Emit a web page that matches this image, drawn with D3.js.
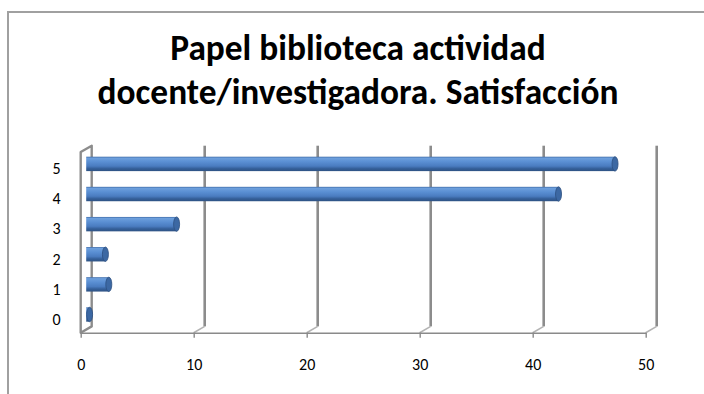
<!DOCTYPE html>
<html>
<head>
<meta charset="utf-8">
<script src="https://cdn.jsdelivr.net/npm/d3@7"></script>
<style>
  html, body { margin: 0; padding: 0; background: #fff; }
  svg { display: block; }
</style>
</head>
<body>
<svg id="chart" width="704" height="394"></svg>
<script>
// Satisfaction ratings (0–5) and their share of responses
const categories = ["0", "1", "2", "3", "4", "5"];
const values = [0.3, 2.0, 1.7, 8.0, 41.8, 46.8];
const tickValues = [0, 10, 20, 30, 40, 50];
const titleLines = ["Papel biblioteca actividad", "docente/investigadora. Satisfacción"];

const svg = d3.select("#chart");
const W = 704, H = 394;
const font = "Carlito, Calibri, Lato, sans-serif";
const labelSize = 16;

// Outer chart frame
svg.append("rect")
  .attr("x", 8).attr("y", 12)
  .attr("width", W + 20).attr("height", H + 20)
  .attr("fill", "#fff")
  .attr("stroke", "#a0a0a0").attr("stroke-width", 2);

// Plot geometry (front plane + 3D depth offset)
const plot = { left: 80.7, right: 645.7, top: 152, bottom: 332.7 };
const depth = { dx: 11, dy: -6.3 };

const x = d3.scaleLinear().domain([0, 50]).range([plot.left, plot.right]);
const y = d3.scaleBand()
  .domain(categories.slice().reverse())
  .range([plot.top, plot.bottom])
  .paddingInner(0).paddingOuter(0);

// Back wall gridlines with their floor connectors
const grid = svg.append("g");
tickValues.slice(1).forEach(v => {
  const fx = x(v), bx = x(v) + depth.dx;
  grid.append("line")
    .attr("x1", bx).attr("x2", bx)
    .attr("y1", plot.top + depth.dy).attr("y2", plot.bottom + depth.dy)
    .attr("stroke", "#8c8c8c").attr("stroke-width", 2.6);
  grid.append("line")
    .attr("x1", bx).attr("x2", fx)
    .attr("y1", plot.bottom + depth.dy).attr("y2", plot.bottom)
    .attr("stroke", "#b4b4b4").attr("stroke-width", 1.6);
});

// Left side wall
const wall = svg.append("g");
const fx0 = x(0), bx0 = x(0) + depth.dx;
wall.append("path")
  .attr("d", `M${fx0},${plot.bottom} L${fx0},${plot.top} L${bx0},${plot.top + depth.dy} L${bx0},${plot.bottom + depth.dy} Z`)
  .attr("fill", "none")
  .attr("stroke", "#8c8c8c").attr("stroke-width", 2.4)
  .attr("stroke-linejoin", "round");

// Cylinder gradient
const defs = svg.append("defs");
const grad = defs.append("linearGradient")
  .attr("id", "cyl").attr("x1", 0).attr("y1", 0).attr("x2", 0).attr("y2", 1);
[
  [0, "#3f6ca8"], [0.1, "#6d9fdc"], [0.35, "#5a8fd3"],
  [0.65, "#4a7cc0"], [0.82, "#35609a"], [1, "#2e5283"]
].forEach(([o, c]) => grad.append("stop").attr("offset", o).attr("stop-color", c));

// Bars drawn as horizontal cylinders sitting half-way into the depth
const barH = 14.4;
const bars = svg.append("g");
categories.forEach((c, i) => {
  const v = values[i];
  const cy = y(c) + y.bandwidth() / 2 + depth.dy / 2;
  const x0 = x(0) + depth.dx / 2;
  const x1 = x(v) + depth.dx / 2;
  const g = bars.append("g");
  g.append("rect")
    .attr("x", x0).attr("y", cy - barH / 2)
    .attr("width", Math.max(0, x1 - x0)).attr("height", barH)
    .attr("fill", "url(#cyl)");
  g.append("ellipse")
    .attr("cx", x1).attr("cy", cy)
    .attr("rx", 3).attr("ry", barH / 2)
    .attr("fill", "#3c68a3")
    .attr("stroke", "#2c4f80").attr("stroke-width", 0.8);
});

// Value axis along the front floor edge
const xAxis = svg.append("g")
  .attr("transform", `translate(0,${plot.bottom})`)
  .call(d3.axisBottom(x).tickValues(tickValues).tickSize(5).tickPadding(21).tickSizeOuter(0))
  .attr("font-family", font).attr("font-size", labelSize);
xAxis.select(".domain").attr("stroke", "#8a8a8a").attr("stroke-width", 1.6);
xAxis.selectAll(".tick line").attr("stroke", "#8a8a8a").attr("stroke-width", 1.4);
xAxis.selectAll(".tick text").attr("fill", "#000");

// Category labels
const yAxis = svg.append("g")
  .attr("transform", `translate(${plot.left},0)`)
  .call(d3.axisLeft(y).tickSize(0).tickPadding(20))
  .attr("font-family", font).attr("font-size", labelSize);
yAxis.select(".domain").remove();
yAxis.selectAll(".tick text").attr("fill", "#000").attr("dy", "0.45em");

// Title, sized so the longer line spans its box
const title = svg.append("g");
const baselines = [60, 104];
const texts = titleLines.map((t, i) => title.append("text")
  .attr("x", 358).attr("y", baselines[i])
  .attr("text-anchor", "middle")
  .attr("font-family", font).attr("font-weight", "bold")
  .attr("font-size", 100)
  .attr("fill", "#000")
  .text(t));
const w2 = texts[1].node().getComputedTextLength();
const size = 100 * 521 / w2;
texts.forEach(t => t.attr("font-size", size));
</script>
</body>
</html>
